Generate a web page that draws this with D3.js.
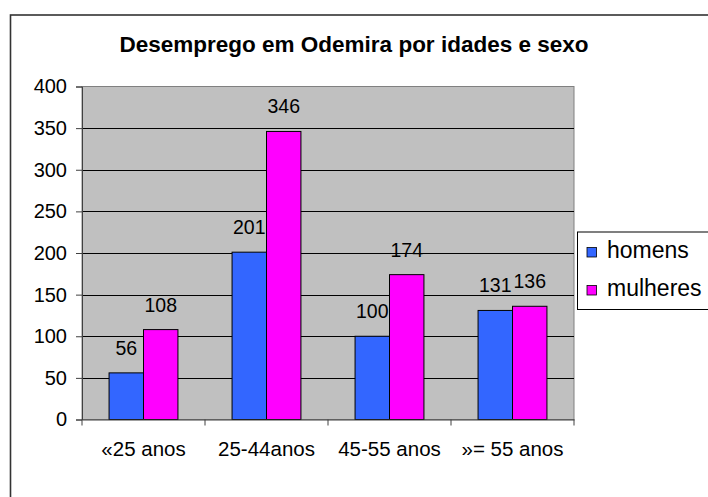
<!DOCTYPE html>
<html><head><meta charset="utf-8">
<script src="https://cdn.jsdelivr.net/npm/d3@7"></script>
<style>body{margin:0;background:#fff}svg{display:block}text{font-family:"Liberation Sans",Arial,sans-serif;fill:#000}</style>
</head><body>
<script>
const categories = ["«25 anos","25-44anos","45-55 anos","»= 55 anos"];
const homens = [56,201,100,131];
const mulheres = [108,346,174,136];
const yTicks = [0,50,100,150,200,250,300,350,400];
const seriesNames = ["homens","mulheres"];
const colors = ["#3366FF","#FF00FF"];
const title = "Desemprego em Odemira por idades e sexo";

const W = 708, H = 497;
const svg = d3.select("body").append("svg").attr("width", W).attr("height", H);

// outer frame
svg.append("rect").attr("x",10.5).attr("y",15).attr("width",720).attr("height",500)
  .attr("fill","none").attr("stroke","#333").attr("stroke-width",1.6);

const L = 82, R = 574, T = 86.5, B = 419.5;
const x = d3.scaleBand().domain(categories).range([L,R]).padding(0);
const y = d3.scaleLinear().domain([0,400]).range([B,T]);

// title
svg.append("text").attr("x",354).attr("y",52).attr("text-anchor","middle")
  .style("font-weight","bold").style("font-size","22.5px").text(title);

// plot area
svg.append("rect").attr("x",L).attr("y",T).attr("width",R-L).attr("height",B-T)
  .attr("fill","#C0C0C0").attr("stroke","#808080").attr("stroke-width",1);

// gridlines
svg.append("g").selectAll("line").data(yTicks.filter(d=>d>0 && d<400)).join("line")
  .attr("x1",L).attr("x2",R).attr("y1",d=>Math.round(y(d))+0.5).attr("y2",d=>Math.round(y(d))+0.5)
  .attr("stroke","#000").attr("stroke-width",1);

// bars
const bw = x.bandwidth()*0.28;
const seriesData = [homens, mulheres];
seriesData.forEach((vals,si)=>{
  svg.append("g").selectAll("rect").data(categories).join("rect")
    .attr("x",(c)=>x(c)+x.bandwidth()/2 + (si===0?-bw:0))
    .attr("y",(c,i)=>y(vals[i]))
    .attr("width",bw)
    .attr("height",(c,i)=>B-y(vals[i]))
    .attr("fill",colors[si]).attr("stroke","#000").attr("stroke-width",1);
  svg.append("g").selectAll("text").data(categories).join("text")
    .attr("x",(c)=>x(c)+x.bandwidth()/2 + (si===0?-bw/2:bw/2))
    .attr("y",(c,i)=>y(vals[i])-18)
    .attr("text-anchor","middle").style("font-size","19.5px")
    .text((c,i)=>vals[i]);
});

// y axis
const ya = d3.axisLeft(y).tickValues(yTicks).tickSize(6).tickPadding(9);
const gy = svg.append("g").attr("transform",`translate(${L},0)`).call(ya);
gy.select(".domain").attr("stroke","#404040");
gy.selectAll(".tick line").attr("stroke","#404040");
gy.selectAll("text").style("font-size","20px").style("font-family",'"Liberation Sans",Arial,sans-serif').attr("fill","#000");

// x axis
const xa = d3.axisBottom(x).tickSize(0).tickPadding(22);
const gx = svg.append("g").attr("transform",`translate(0,${B})`).call(xa);
gx.select(".domain").attr("stroke","#404040");
gx.selectAll("text").style("font-size","20.5px").style("font-family",'"Liberation Sans",Arial,sans-serif').attr("fill","#000");
// category boundary ticks
const bounds = categories.map(c=>x(c)).concat([R]);
svg.append("g").selectAll("line").data(bounds).join("line")
  .attr("x1",d=>d).attr("x2",d=>d).attr("y1",B).attr("y2",B+6)
  .attr("stroke","#404040");

// legend
const lg = svg.append("g");
lg.append("rect").attr("x",577.5).attr("y",232).attr("width",132).attr("height",77.5)
  .attr("fill","#fff").attr("stroke","#000");
seriesNames.forEach((n,i)=>{
  const yy = 247.5 + i*38;
  lg.append("rect").attr("x",587).attr("y",yy).attr("width",9.5).attr("height",9.5)
    .attr("fill",colors[i]).attr("stroke","#000").attr("stroke-width",0.8);
  lg.append("text").attr("x",607).attr("y",yy+10.5).style("font-size","23px").text(n);
});
</script>
</body></html>
